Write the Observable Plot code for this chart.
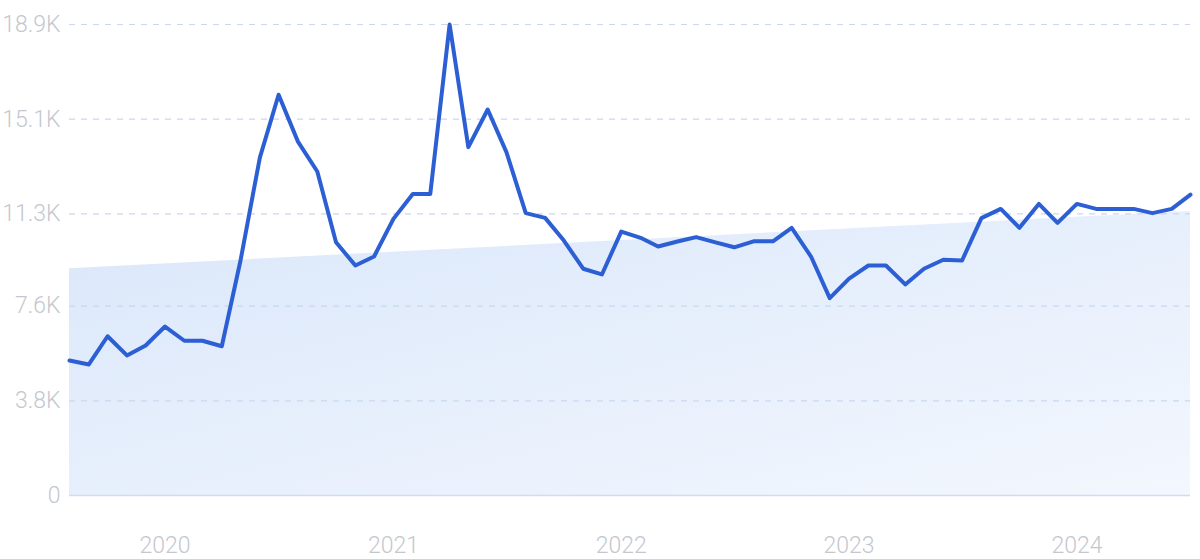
<!DOCTYPE html>
<html><head><meta charset="utf-8">
<script src="https://cdn.jsdelivr.net/npm/d3@7"></script>
<script src="https://cdn.jsdelivr.net/npm/@observablehq/plot@0.6"></script>
<style>body{margin:0;background:#fff;}</style>
</head><body><div id="chart"></div>
<script>
// Monthly series, Aug 2019 – Jul 2024
const startMonth = "2019-08-01";
const endMonth = "2024-07-01";
const values = [5420,5260,6390,5620,6020,6780,6210,6210,5990,9430,
  13560,16080,14200,13000,10160,9230,9590,11100,12100,12100,
  18900,13980,15490,13780,11330,11140,10230,9100,8870,10590,
  10340,9990,10190,10370,10160,9960,10200,10200,10740,9590,
  7920,8700,9230,9230,8470,9100,9460,9430,11130,11500,
  10740,11700,10940,11700,11500,11500,11500,11330,11500,12070];
const trendValues = [9100, 11400]; // trend at first and last month
const yTicks = [0, 3800, 7600, 11300, 15100, 18900];
const yTickLabels = ["0", "3.8K", "7.6K", "11.3K", "15.1K", "18.9K"];
const yearTicks = ["2020", "2021", "2022", "2023", "2024"];

const months = d3.utcMonth.range(new Date(startMonth), d3.utcMonth.offset(new Date(endMonth), 1));
const data = months.map((date, i) => ({date, value: values[i]}));
const trend = [{date: months[0], value: trendValues[0]}, {date: months[months.length - 1], value: trendValues[1]}];
const yearDates = yearTicks.map(y => new Date(`${y}-01-01`));

const labelColor = "#c4c7ce";
const svg = Plot.plot({
  width: 1200, height: 559,
  marginLeft: 69, marginRight: 10, marginTop: 24, marginBottom: 64,
  x: {type: "utc", domain: [months[0], months[months.length - 1]]},
  y: {domain: [0, 18900]},
  style: {fontFamily: "Roboto, sans-serif", fontSize: "23px", fontWeight: 300, color: labelColor, background: "#fff"},
  marks: [
    Plot.areaY(trend, {x: "date", y: "value", fill: "url(#trendGrad)"}),
    Plot.ruleY(yTicks.filter(d => d > 0), {stroke: "#c9d8f0", strokeDasharray: "6,6", strokeWidth: 1.2}),
    Plot.ruleY([0], {stroke: "#cfdcf2", strokeWidth: 1.5}),
    Plot.lineY(data, {x: "date", y: "value", stroke: "#2c5fd4", strokeWidth: 4}),
    Plot.axisY({ticks: yTicks, tickFormat: d => yTickLabels[yTicks.indexOf(d)], tickSize: 0, tickPadding: 9, label: null, fill: labelColor}),
    Plot.axisX({ticks: yearDates, tickFormat: d3.utcFormat("%Y"), tickSize: 0, tickPadding: 41, label: null, fill: labelColor})
  ]
});
const defs = d3.select(svg).insert("defs", ":first-child");
const g = defs.append("linearGradient").attr("id", "trendGrad")
  .attr("x1", 0).attr("y1", 0).attr("x2", 1).attr("y2", 1);
g.append("stop").attr("offset", "0%").attr("stop-color", "#dae7fa");
g.append("stop").attr("offset", "100%").attr("stop-color", "#f3f7fe");
document.getElementById("chart").appendChild(svg);
</script>
</body></html>
